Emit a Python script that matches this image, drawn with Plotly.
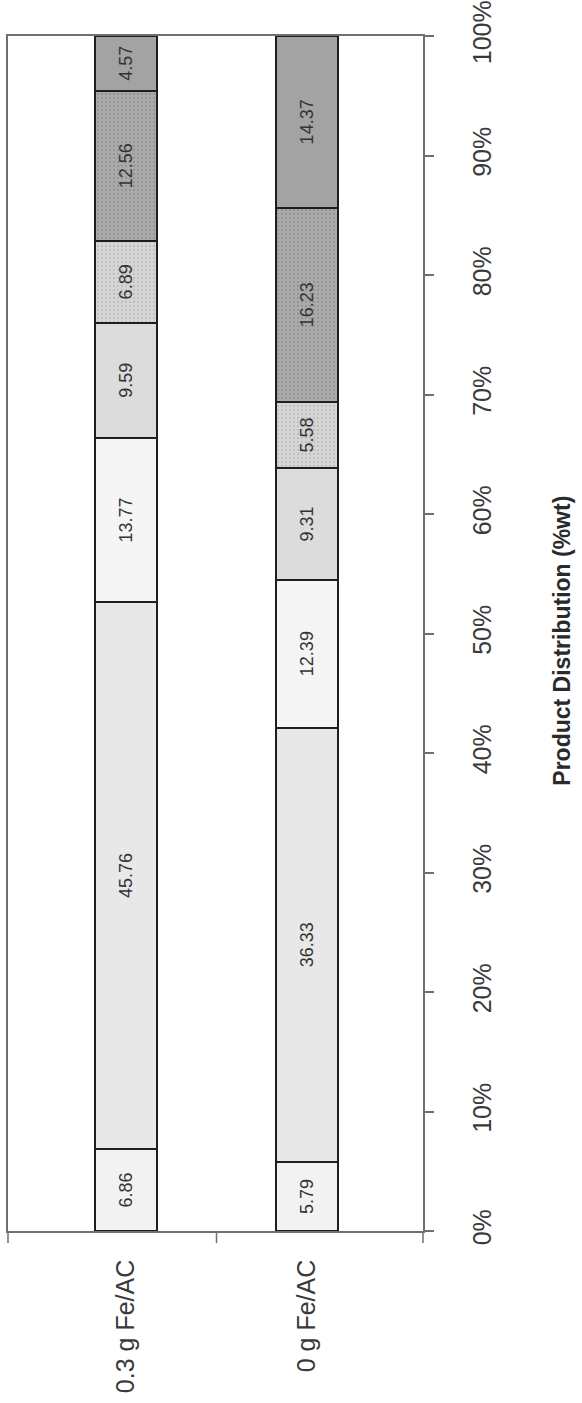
import plotly.graph_objects as go

# ---- data ----
categories = ["0.3 g Fe/AC", "0 g Fe/AC"]
series_names = ["Fraction 1", "Fraction 2", "Fraction 3", "Fraction 4",
                "Fraction 5", "Fraction 6", "Fraction 7"]
s1 = [6.86, 5.79]
s2 = [45.76, 36.33]
s3 = [13.77, 12.39]
s4 = [9.59, 9.31]
s5 = [6.89, 5.58]
s6 = [12.56, 16.23]
s7 = [4.57, 14.37]
percent_ticks = [0, 10, 20, 30, 40, 50, 60, 70, 80, 90, 100]
percent_labels = [f"{v}%" for v in percent_ticks]
axis_title = "Product Distribution (%wt)"

# ---- styles ----
series_values = [s1, s2, s3, s4, s5, s6, s7]
fills = ["#f2f2f2", "#e8e8e8", "#f5f5f5", "#dcdcdc", "#d2d2d2", "#aaaaaa", "#a3a3a3"]
patterns = [None, None, None, None,
            dict(shape=".", fgcolor="#a8a8a8", bgcolor="#d6d6d6", size=4, solidity=0.25),
            dict(shape=".", fgcolor="#7a7a7a", bgcolor="#ababab", size=4, solidity=0.25),
            None]

FONT = "Liberation Sans, Arial, sans-serif"

fig = go.Figure()
for name, vals, col, pat in zip(series_names, series_values, fills, patterns):
    marker = dict(color=col, line=dict(color="#1e1e1e", width=2))
    if pat is not None:
        marker["pattern"] = pat
    fig.add_trace(go.Bar(
        name=name, x=categories, y=vals, width=0.343,
        marker=marker,
        texttemplate="%{y:.2f}", textposition="inside",
        insidetextanchor="middle", textangle=-90,
        constraintext="none",
        textfont=dict(family=FONT, size=18, color="#333333"),
        showlegend=False, hoverinfo="x+y+name",
    ))

fig.update_layout(
    width=582, height=1403,
    margin=dict(l=8, r=159, t=36, b=172, autoexpand=False),
    barmode="stack",
    paper_bgcolor="white", plot_bgcolor="white",
    font=dict(family=FONT, size=25, color="#333333"),
    xaxis=dict(
        type="category", range=[-0.652, 1.641],
        showline=True, linecolor="#6f6f6f", linewidth=1.5, mirror=True,
        ticks="", tickangle=-90, ticklabelstandoff=17,
        tickfont=dict(family=FONT, size=25, color="#3a3a3a"),
        showgrid=False, zeroline=False, automargin=False,
    ),
    yaxis=dict(
        side="right", range=[0, 100], tickmode="array",
        tickvals=percent_ticks, ticktext=percent_labels,
        ticks="outside", ticklen=9, tickcolor="#6f6f6f", tickwidth=1.5,
        showline=True, linecolor="#6f6f6f", linewidth=1.5, mirror=True,
        tickangle=-90, ticklabelstandoff=27, ticklabeloverflow="allow",
        tickfont=dict(family=FONT, size=25, color="#3a3a3a"),
        showgrid=False, zeroline=False, automargin=False,
    ),
    annotations=[dict(
        text="<b>" + axis_title + "</b>", textangle=-90,
        xref="paper", yref="paper", x=1.335, y=0.494,
        xanchor="center", yanchor="middle", showarrow=False,
        font=dict(family=FONT, size=23, color="#2a2a2a"),
    )],
    shapes=[
        dict(type="line", xref="paper", yref="paper", x0=0, x1=0, y0=0, y1=-0.01,
             line=dict(color="#6f6f6f", width=1.5)),
        dict(type="line", xref="x", yref="paper", x0=0.5, x1=0.5, y0=0, y1=-0.01,
             line=dict(color="#6f6f6f", width=1.5)),
        dict(type="line", xref="paper", yref="paper", x0=1, x1=1, y0=0, y1=-0.01,
             line=dict(color="#6f6f6f", width=1.5)),
    ],
)

fig.write_html(
    "out.html",
    config={"displayModeBar": False},
    post_script="document.body.style.margin='0';document.body.style.overflow='hidden';",
)
